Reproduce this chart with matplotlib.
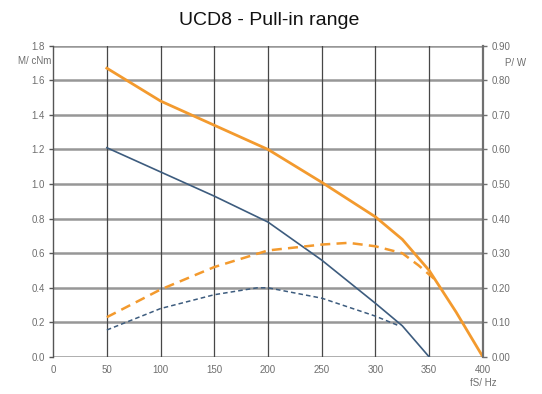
"""
UCD8 - Pull-in range: torque and power vs. step frequency,
two driver curves on twin axes (M in cNm left, P in W right).
"""

import matplotlib
matplotlib.use("Agg")
import matplotlib.pyplot as plt

plt.rcParams["font.family"] = ["Liberation Sans", "DejaVu Sans"]

# ── Data ──────────────────────────────────────────────────────────────────────
f_orange = [50, 100, 150, 200, 250, 300, 325, 350, 375, 400]
m_orange = [1.67, 1.48, 1.34, 1.20, 1.01, 0.81, 0.68, 0.50, 0.26, 0.00]

f_blue = [50, 100, 150, 200, 250, 300, 325, 350]
m_blue = [1.21, 1.07, 0.93, 0.78, 0.56, 0.31, 0.18, 0.00]

f_p_orange = [50, 100, 150, 200, 250, 275, 300, 325, 340, 355]
p_orange = [0.115, 0.195, 0.260, 0.308, 0.325, 0.330, 0.320, 0.300, 0.265, 0.225]

f_p_blue = [50, 100, 150, 190, 200, 250, 300, 322]
p_blue = [0.078, 0.140, 0.180, 0.200, 0.200, 0.170, 0.118, 0.090]

x_ticks = [0, 50, 100, 150, 200, 250, 300, 350, 400]
m_ticks = [0.0, 0.2, 0.4, 0.6, 0.8, 1.0, 1.2, 1.4, 1.6, 1.8]
p_ticks = [0.0, 0.1, 0.2, 0.3, 0.4, 0.5, 0.6, 0.7, 0.8, 0.9]

ORANGE = "#F39A2E"
BLUE = "#3D5C7E"
TICK_GREY = "#6E6E6E"

# ── Plot ──────────────────────────────────────────────────────────────────────
fig = plt.figure(figsize=(5.42, 3.94), dpi=100)
ax = fig.add_axes([0.098, 0.094, 0.793, 0.790])
ax2 = ax.twinx()

ax.set_xlim(0, 400)
ax.set_ylim(0, 1.8)
ax2.set_ylim(0, 0.9)

# grid: thick grey horizontals, thinner dark verticals
for y in m_ticks:
    ax.axhline(y, color="#979797", linewidth=1.8, zorder=1)
for x in x_ticks[1:]:
    ax.axvline(x, color="#474747", linewidth=0.9, zorder=1)

ax.plot(f_orange, m_orange, color=ORANGE, linewidth=2.0, zorder=4)
ax.plot(f_blue, m_blue, color=BLUE, linewidth=1.2, zorder=4)
ax2.plot(f_p_orange, p_orange, color=ORANGE, linewidth=1.8,
         linestyle=(0, (4, 2.5)), zorder=3)
ax2.plot(f_p_blue, p_blue, color=BLUE, linewidth=1.1,
         linestyle=(0, (3, 2)), zorder=3)

for a in (ax, ax2):
    for s in a.spines.values():
        s.set_visible(False)
ax.spines["left"].set_visible(True)
ax.spines["left"].set_color("#555555")
ax.spines["left"].set_linewidth(1.0)
ax2.spines["right"].set_visible(True)
ax2.spines["right"].set_color("#707070")
ax2.spines["right"].set_linewidth(1.6)

ax.set_xticks(x_ticks)
ax.set_xticklabels([str(v) for v in x_ticks])
ax.set_yticks(m_ticks)
ax.set_yticklabels([f"{v:.1f}" for v in m_ticks])
ax2.set_yticks(p_ticks)
ax2.set_yticklabels([f"{v:.2f}" for v in p_ticks])

ax.tick_params(axis="x", length=0, pad=6, labelsize=7, labelcolor=TICK_GREY)
ax.tick_params(axis="y", length=3, width=1, color="#555555", pad=3,
               labelsize=7, labelcolor=TICK_GREY)
ax2.tick_params(axis="y", length=3, width=1, color="#707070", pad=3,
                labelsize=7, labelcolor=TICK_GREY)

ax.text(-0.005, 0.95, "M/ cNm", transform=ax.transAxes, ha="right",
        va="center", fontsize=7, color=TICK_GREY)
ax2.text(1.075, 0.945, "P/ W", transform=ax2.transAxes, ha="center",
         va="center", fontsize=7, color=TICK_GREY)
ax.text(1.0, -0.085, "fS/ Hz", transform=ax.transAxes, ha="center",
        va="center", fontsize=7, color=TICK_GREY)

fig.text(0.496, 0.949, "UCD8 - Pull-in range", ha="center", va="center",
         fontsize=14, color="#111111")

fig.savefig("out.png", dpi=100)
plt.close()
